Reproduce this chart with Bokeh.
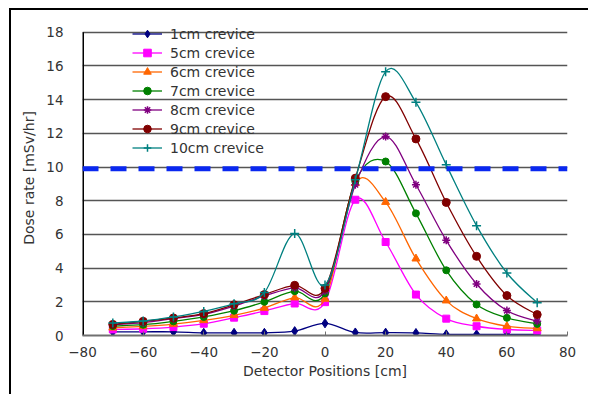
from bokeh.plotting import figure
from bokeh.models import Span, Legend, LegendItem, FixedTicker, ColumnDataSource
from bokeh.embed import file_html
from bokeh.resources import INLINE

positions = [-70, -60, -50, -40, -30, -20, -10, 0, 10, 20, 30, 40, 50, 60, 70]
dose_1cm = [0.22, 0.22, 0.22, 0.16, 0.16, 0.16, 0.26, 0.72, 0.18, 0.17, 0.15, 0.07, 0.07, 0.07, 0.07]
dose_5cm = [0.36, 0.40, 0.50, 0.70, 1.06, 1.45, 1.90, 1.98, 8.06, 5.55, 2.43, 1.00, 0.55, 0.36, 0.30]
dose_6cm = [0.46, 0.54, 0.68, 0.90, 1.20, 1.63, 2.25, 2.17, 9.04, 7.92, 4.56, 2.07, 1.00, 0.55, 0.42]
dose_7cm = [0.56, 0.64, 0.84, 1.10, 1.47, 2.00, 2.63, 2.50, 9.14, 10.33, 7.25, 3.87, 1.84, 1.05, 0.69]
dose_8cm = [0.64, 0.76, 1.00, 1.25, 1.75, 2.35, 2.83, 2.65, 8.95, 11.81, 8.95, 5.65, 3.06, 1.48, 0.85]
dose_9cm = [0.66, 0.84, 1.04, 1.30, 1.83, 2.43, 2.98, 2.80, 9.34, 14.18, 11.67, 7.90, 4.70, 2.37, 1.24]
dose_10cm = [0.74, 0.86, 1.10, 1.43, 1.89, 2.55, 6.05, 3.00, 9.24, 15.66, 13.84, 10.13, 6.52, 3.71, 1.94]
series_names = ["1cm crevice", "5cm crevice", "6cm crevice", "7cm crevice",
                "8cm crevice", "9cm crevice", "10cm crevice"]
dose_limit = 9.9
x_ticks = [-80, -60, -40, -20, 0, 20, 40, 60, 80]
y_ticks = [0, 2, 4, 6, 8, 10, 12, 14, 16, 18]

series = [dose_1cm, dose_5cm, dose_6cm, dose_7cm, dose_8cm, dose_9cm, dose_10cm]
colors = ["#000080", "#FF00FF", "#FF6600", "#008000", "#800080", "#800000", "#008080"]
markers = ["diamond", "square", "triangle", "circle", "asterisk", "circle", "cross"]
msizes = [9, 7, 8, 7, 8, 8, 9]

FONT = "DejaVu Sans"
Y_TOP = 18.7

p = figure(width=579, height=386, output_backend="svg", toolbar_location=None,
           x_range=(-80, 80), y_range=(0, Y_TOP),
           min_border_left=71, min_border_right=23, min_border_top=10, min_border_bottom=61)
p.styles = {"margin-left": "11px", "margin-top": "10px", "box-shadow": "-2px -2px 0px 0px black"}
p.outline_line_color = None
p.background_fill_color = "white"

# grid
p.xgrid.grid_line_color = None
p.ygrid.ticker = FixedTicker(ticks=y_ticks)
p.ygrid.grid_line_color = "#555555"
p.ygrid.grid_line_width = 1.3

# axes
p.xaxis.ticker = FixedTicker(ticks=x_ticks)
p.yaxis.ticker = FixedTicker(ticks=y_ticks)
p.xaxis.major_label_overrides = {t: (("\u2212" + str(-t)) if t < 0 else str(t)) for t in x_ticks}
p.xaxis.axis_label = "Detector Positions [cm]"
p.yaxis.axis_label = "Dose rate [mSv/hr]"
for ax in (p.xaxis, p.yaxis):
    ax.major_label_text_font = FONT
    ax.major_label_text_font_size = "13.5px"
    ax.major_label_text_color = "#333333"
    ax.axis_label_text_font = FONT
    ax.axis_label_text_font_size = "14px"
    ax.axis_label_text_font_style = "normal"
    ax.axis_label_text_color = "#333333"
    ax.minor_tick_line_color = None
p.xaxis.axis_line_color = "#707070"
p.xaxis.axis_line_width = 2
p.xaxis.major_tick_line_color = "#707070"
p.xaxis.major_tick_in = 4
p.xaxis.major_tick_out = 0
p.xaxis.major_label_standoff = 11
p.xaxis.axis_label_standoff = 3
p.yaxis.axis_line_color = None
p.yaxis.major_tick_line_color = None
p.yaxis.major_label_standoff = 13
p.yaxis.axis_label_standoff = 6

# y-axis line from 0 to 18 only
p.segment(x0=[x_ticks[0]], y0=[y_ticks[0]], x1=[x_ticks[0]], y1=[y_ticks[-1]],
          line_color="black", line_width=3)

# threshold line
p.add_layout(Span(location=dose_limit, dimension="width", line_color="#0A28F0",
                  line_width=5, line_dash="16 12"))


def smooth_segments(xs, ys):
    n = len(xs)
    x0, y0, x1, y1, cx0, cy0, cx1, cy1 = [], [], [], [], [], [], [], []
    for i in range(n - 1):
        im = max(i - 1, 0)
        ip2 = min(i + 2, n - 1)
        x0.append(xs[i]); y0.append(ys[i])
        x1.append(xs[i + 1]); y1.append(ys[i + 1])
        cx0.append(xs[i] + (xs[i + 1] - xs[im]) / 6.0)
        cy0.append(ys[i] + (ys[i + 1] - ys[im]) / 6.0)
        cx1.append(xs[i + 1] - (xs[ip2] - xs[i]) / 6.0)
        cy1.append(ys[i + 1] - (ys[ip2] - ys[i]) / 6.0)
    return dict(x0=x0, y0=y0, x1=x1, y1=y1, cx0=cx0, cy0=cy0, cx1=cx1, cy1=cy1)


items = []
for name, ys, col, mk, ms in zip(series_names, series, colors, markers, msizes):
    src = ColumnDataSource(smooth_segments(positions, ys))
    bz = p.bezier(x0="x0", y0="y0", x1="x1", y1="y1", cx0="cx0", cy0="cy0", cx1="cx1", cy1="cy1",
                  source=src, line_color=col, line_width=1.3)
    if mk in ("asterisk", "cross"):
        sc = p.scatter(positions, ys, marker=mk, size=ms, line_color=col, line_width=1.5)
    else:
        sc = p.scatter(positions, ys, marker=mk, size=ms, fill_color=col, line_color=col)
    items.append(LegendItem(label=name, renderers=[bz, sc]))

legend = Legend(items=items, location=(50, 178), border_line_color=None,
                background_fill_alpha=0, padding=0, margin=0, spacing=0,
                glyph_width=30, glyph_height=19, label_height=19, label_standoff=8,
                label_text_font=FONT, label_text_font_size="14px", label_text_color="#333333")
p.add_layout(legend, "center")

open("out.html", "w").write(file_html(p, INLINE))
